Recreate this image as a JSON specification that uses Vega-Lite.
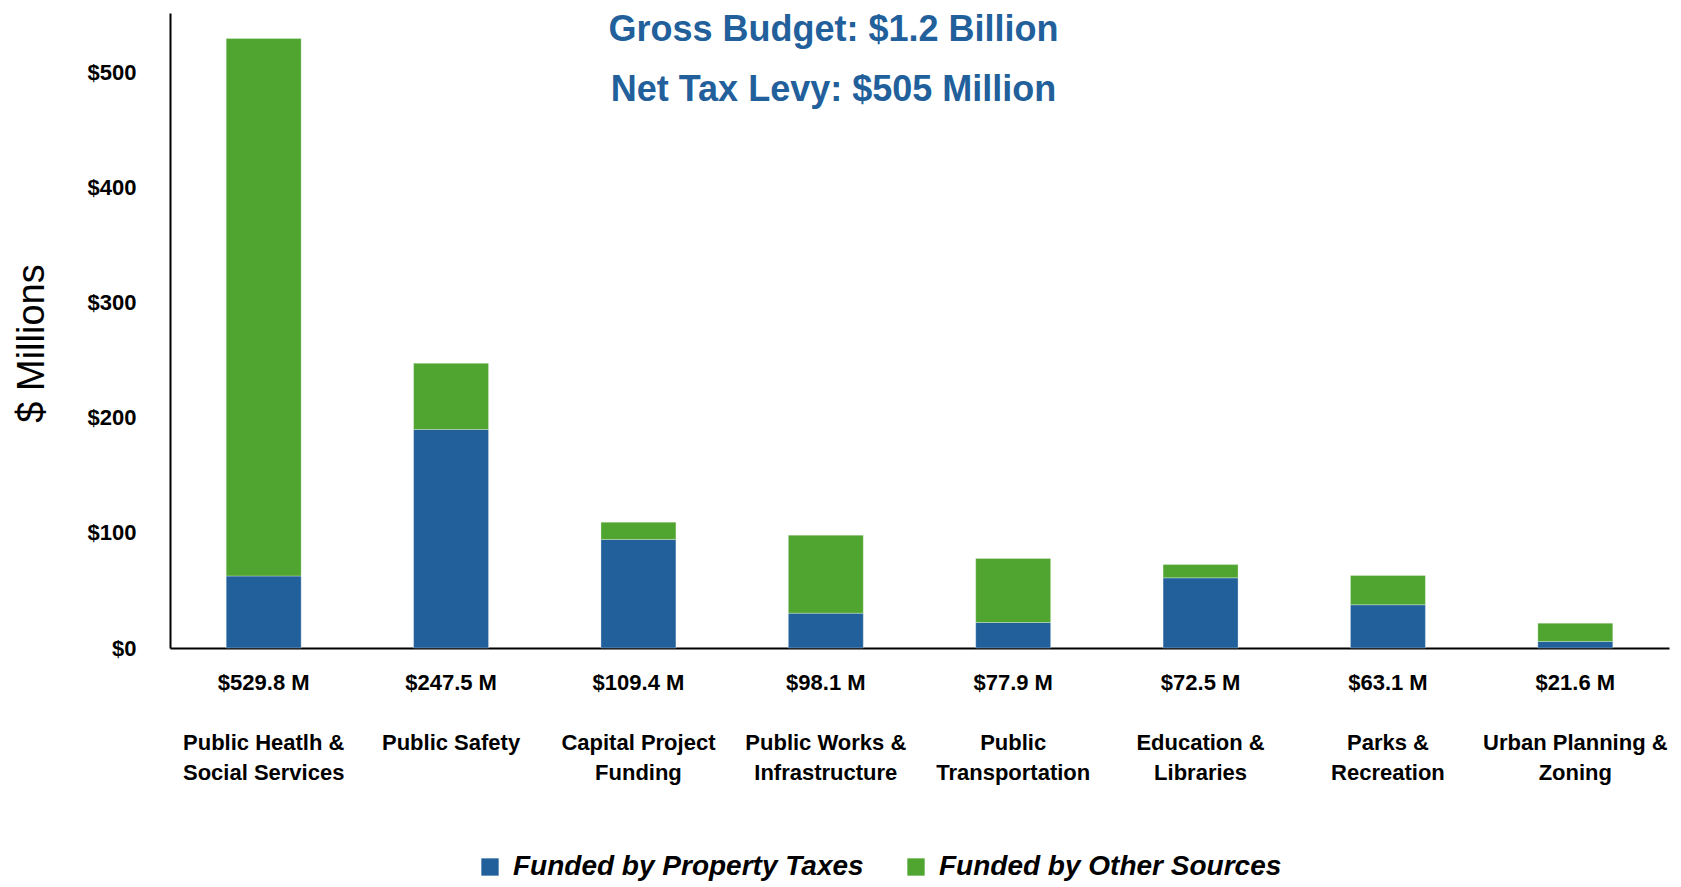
{
  "$schema": "https://vega.github.io/schema/vega-lite/v6.json",
  "width": 1499,
  "height": 635,
  "autosize": {"type": "none"},
  "padding": {"left": 170, "top": 13, "right": 12, "bottom": 239},
  "background": "white",
  "config": {"view": {"stroke": null}},
  "title": {
    "text": ["Gross Budget: $1.2 Billion", "Net Tax Levy: $505 Million"],
    "font": "Liberation Sans",
    "fontSize": 36,
    "fontWeight": "bold",
    "color": "#22609C",
    "lineHeight": 60,
    "anchor": "middle",
    "offset": -124,
    "baseline": "alphabetic",
    "dx": -86
  },
  "datasets": {
    "segments": [
      {"label": "Public Heatlh &|Social Services", "source": "Funded by Property Taxes", "amount": 62.6},
      {"label": "Public Heatlh &|Social Services", "source": "Funded by Other Sources", "amount": 467.2},
      {"label": "Public Safety", "source": "Funded by Property Taxes", "amount": 190.0},
      {"label": "Public Safety", "source": "Funded by Other Sources", "amount": 57.5},
      {"label": "Capital Project|Funding", "source": "Funded by Property Taxes", "amount": 94.4},
      {"label": "Capital Project|Funding", "source": "Funded by Other Sources", "amount": 15.0},
      {"label": "Public Works &|Infrastructure", "source": "Funded by Property Taxes", "amount": 30.3},
      {"label": "Public Works &|Infrastructure", "source": "Funded by Other Sources", "amount": 67.8},
      {"label": "Public|Transportation", "source": "Funded by Property Taxes", "amount": 22.2},
      {"label": "Public|Transportation", "source": "Funded by Other Sources", "amount": 55.7},
      {"label": "Education &|Libraries", "source": "Funded by Property Taxes", "amount": 61.0},
      {"label": "Education &|Libraries", "source": "Funded by Other Sources", "amount": 11.5},
      {"label": "Parks &|Recreation", "source": "Funded by Property Taxes", "amount": 37.6},
      {"label": "Parks &|Recreation", "source": "Funded by Other Sources", "amount": 25.5},
      {"label": "Urban Planning &|Zoning", "source": "Funded by Property Taxes", "amount": 5.7},
      {"label": "Urban Planning &|Zoning", "source": "Funded by Other Sources", "amount": 15.9}
    ],
    "totals": [
      {"label": "Public Heatlh &|Social Services", "total": "$529.8 M"},
      {"label": "Public Safety", "total": "$247.5 M"},
      {"label": "Capital Project|Funding", "total": "$109.4 M"},
      {"label": "Public Works &|Infrastructure", "total": "$98.1 M"},
      {"label": "Public|Transportation", "total": "$77.9 M"},
      {"label": "Education &|Libraries", "total": "$72.5 M"},
      {"label": "Parks &|Recreation", "total": "$63.1 M"},
      {"label": "Urban Planning &|Zoning", "total": "$21.6 M"}
    ]
  },
  "encoding": {
    "x": {
      "field": "label",
      "type": "nominal",
      "sort": null,
      "scale": {"paddingInner": 0.6, "paddingOuter": 0.3},
      "axis": {
        "title": null,
        "labelExpr": "split(datum.label, '|')",
        "labelAngle": 0,
        "labelFont": "Liberation Sans",
        "labelFontSize": 22,
        "labelFontWeight": "bold",
        "labelColor": "#000000",
        "labelLineHeight": 30,
        "labelBaseline": "top",
        "labelPadding": 84,
        "labelLimit": 400,
        "labelOverlap": false,
        "ticks": false,
        "domainColor": "#000000",
        "domainWidth": 2
      }
    }
  },
  "layer": [
    {
      "data": {"name": "segments"},
      "mark": {"type": "bar", "stroke": "#ffffff", "strokeWidth": 0.6, "strokeOpacity": 0.5},
      "encoding": {
        "y": {
          "field": "amount",
          "type": "quantitative",
          "stack": "zero",
          "scale": {"domain": [0, 552], "nice": false},
          "axis": {
            "values": [0, 100, 200, 300, 400, 500],
            "labelExpr": "'$' + datum.value",
            "grid": false,
            "ticks": false,
            "domainColor": "#000000",
            "domainWidth": 2,
            "labelFont": "Liberation Sans",
            "labelFontSize": 22,
            "labelFontWeight": "bold",
            "labelColor": "#000000",
            "labelPadding": 34,
            "title": "$ Millions",
            "titleFont": "Liberation Sans",
            "titleFontSize": 38,
            "titleFontWeight": "normal",
            "titleColor": "#000000",
            "titleX": -127,
            "titleY": 330,
            "titleAngle": -90,
            "titleBaseline": "alphabetic",
            "titleAlign": "center"
          }
        },
        "color": {
          "field": "source",
          "type": "nominal",
          "scale": {
            "domain": ["Funded by Property Taxes", "Funded by Other Sources"],
            "range": ["#22609C", "#4FA52F"]
          },
          "legend": {
            "title": null,
            "orient": "none",
            "direction": "horizontal",
            "legendX": 306,
            "legendY": 840,
            "padding": 0,
            "symbolType": "square",
            "symbolSize": 300,
            "symbolStrokeWidth": 0,
            "symbolOpacity": 1,
            "labelFont": "Liberation Sans",
            "labelFontSize": 28,
            "labelFontWeight": "bold",
            "labelFontStyle": "italic",
            "labelColor": "#000000",
            "labelOffset": 9,
            "labelLimit": 600,
            "columnPadding": 38
          }
        },
        "order": {"field": "source", "sort": "descending"}
      }
    },
    {
      "data": {"name": "totals"},
      "mark": {
        "type": "text",
        "font": "Liberation Sans",
        "fontSize": 22,
        "fontWeight": "bold",
        "color": "#000000",
        "baseline": "alphabetic",
        "align": "center",
        "dy": 42
      },
      "encoding": {
        "y": {"datum": 0, "type": "quantitative"},
        "text": {"field": "total", "type": "nominal"}
      }
    }
  ]
}
